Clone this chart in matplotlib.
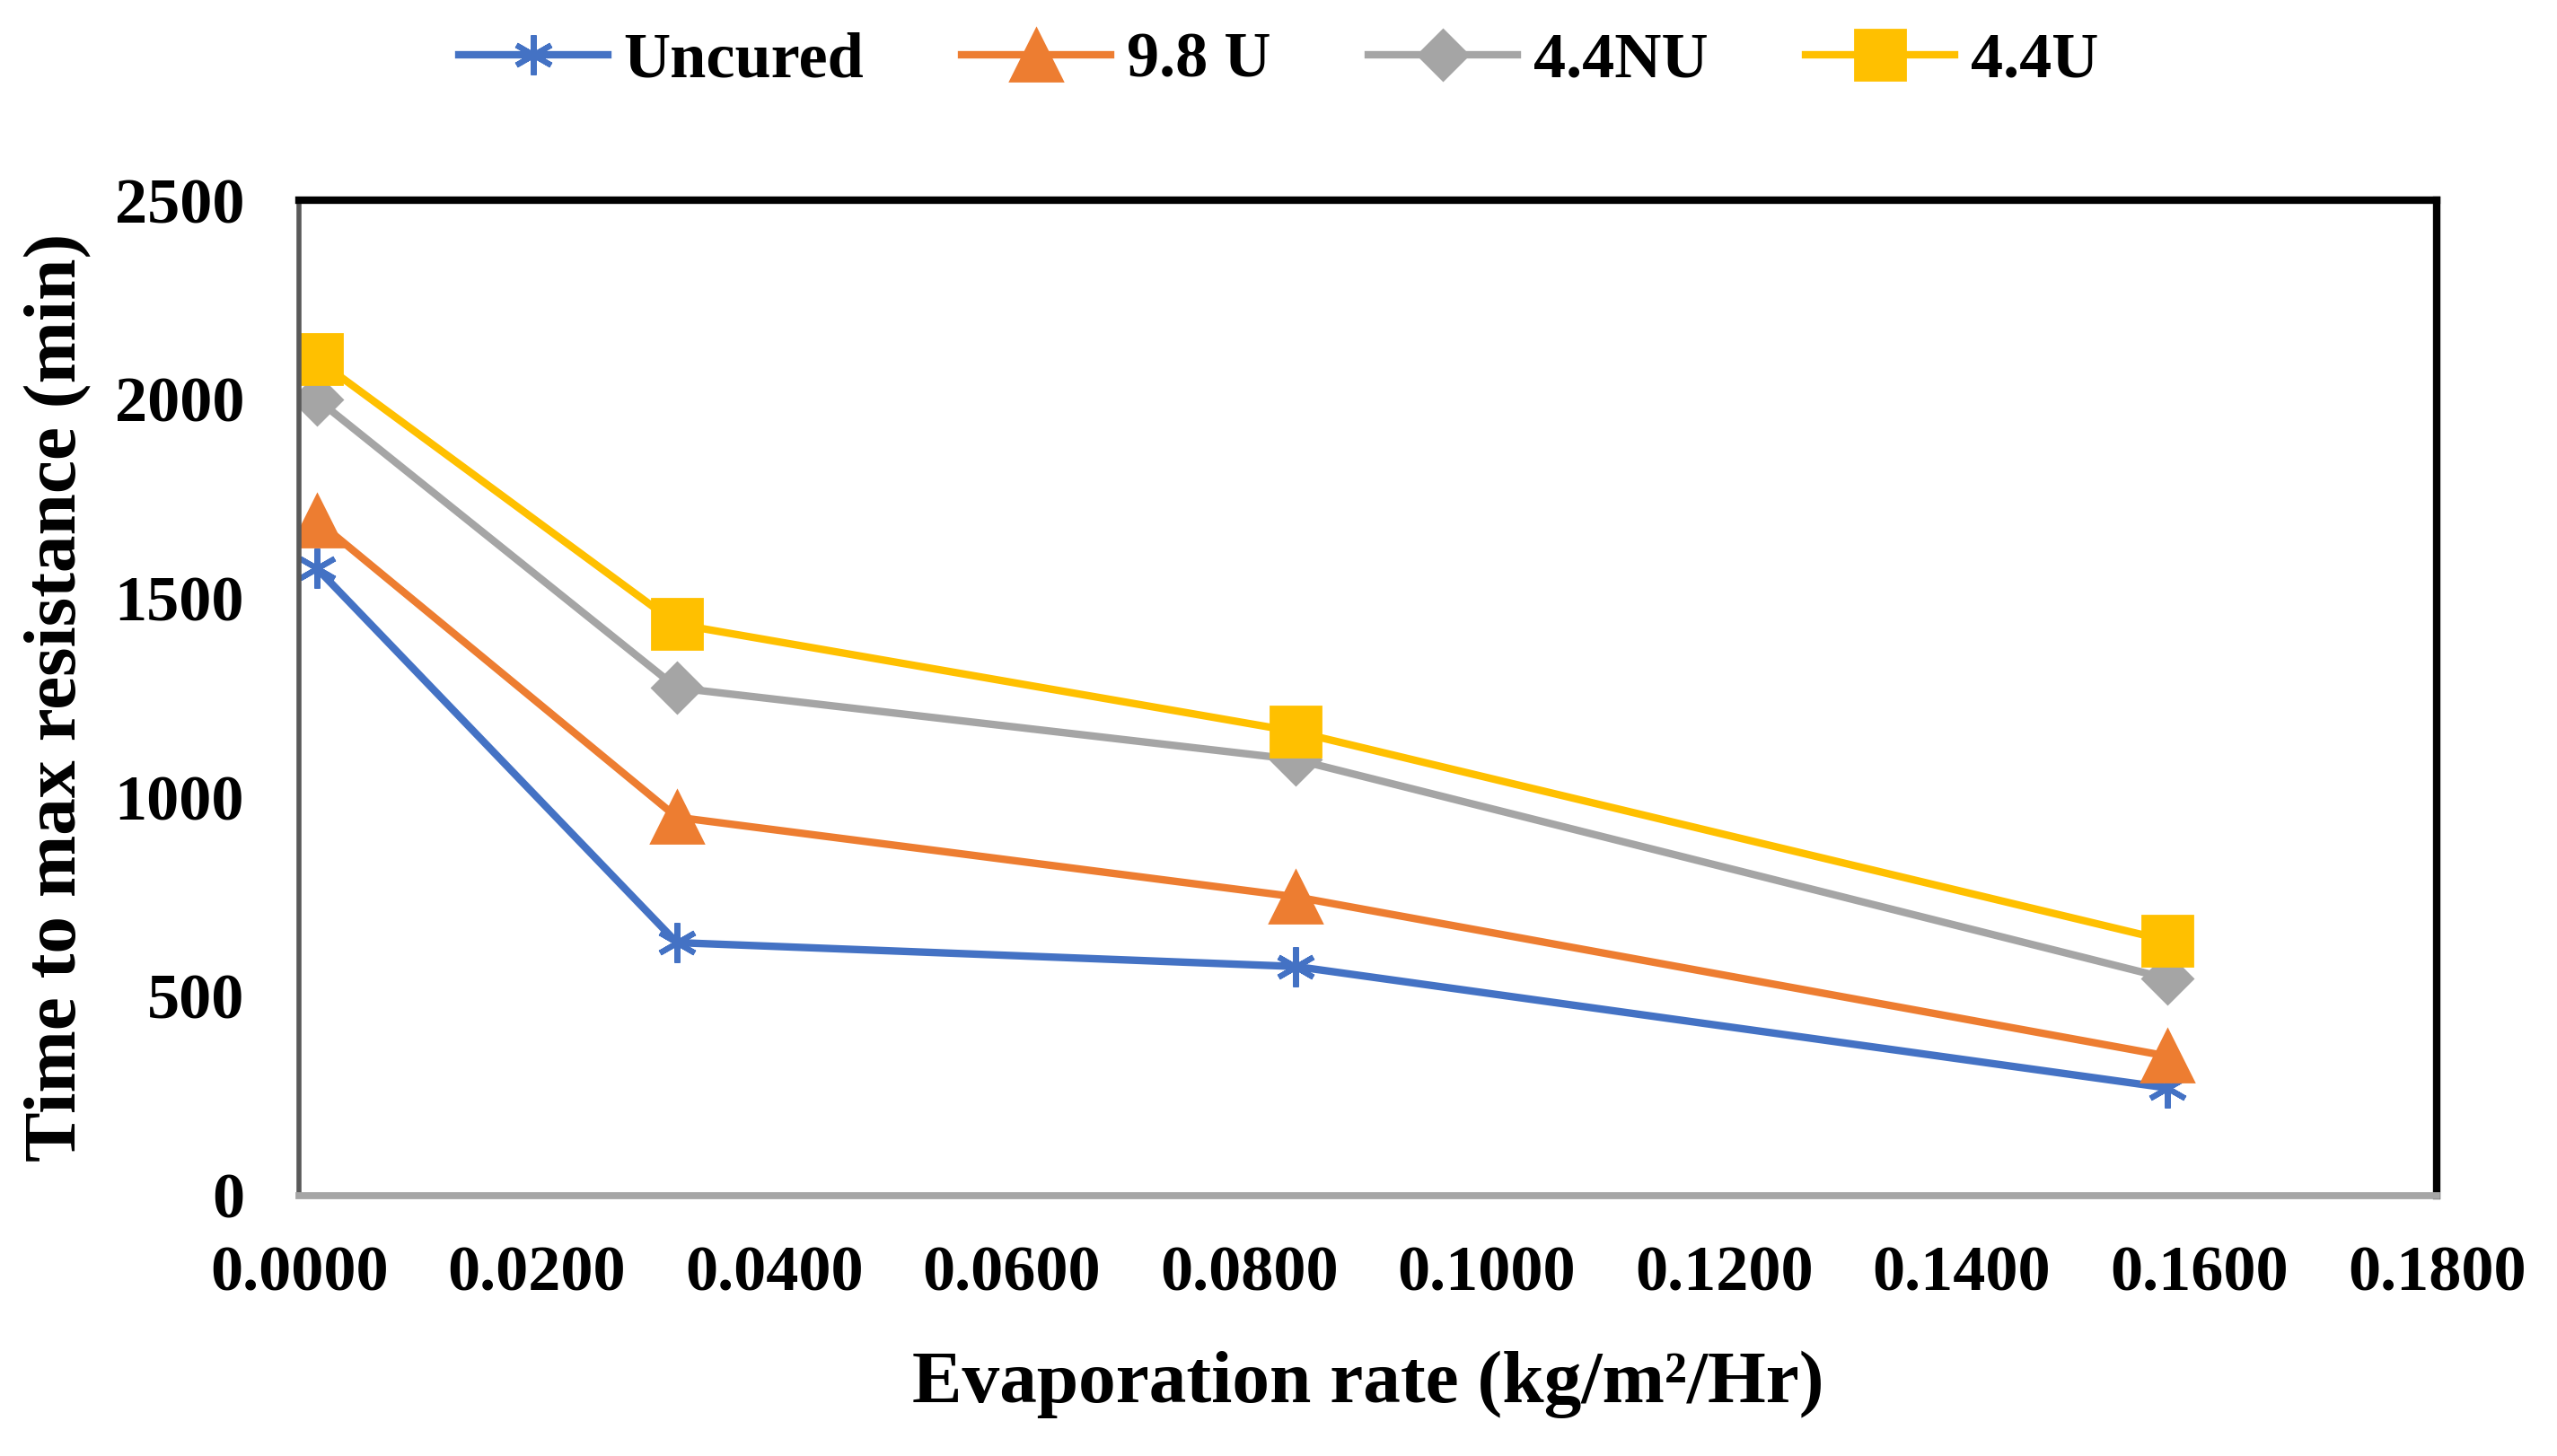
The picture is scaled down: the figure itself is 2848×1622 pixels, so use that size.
import matplotlib.pyplot as plt
import numpy as np

plt.rc('font', family='Liberation Serif', weight='bold')

# data
evap = [0.0015, 0.0318, 0.0839, 0.1573]
uncured = [1575, 635, 575, 270]
u98 = [1695, 950, 750, 350]
nu44 = [2000, 1275, 1095, 545]
u44 = [2100, 1435, 1165, 640]

names = ['Uncured', '9.8 U', '4.4NU', '4.4U']
xticks = np.arange(0, 0.1801, 0.02)
yticks = [0, 500, 1000, 1500, 2000, 2500]

fig = plt.figure(figsize=(14.24, 8.11), dpi=200)
ax = fig.add_axes([0.117, 0.179, 0.836, 0.6835])

lw = 3.0
ax.plot(evap, uncured, color='#4472C4', lw=lw, marker=(6, 2, 0), ms=16, mew=2.2, label=names[0])
ax.plot(evap, u98, color='#ED7D31', lw=lw, marker='^', ms=21, label=names[1])
ax.plot(evap, nu44, color='#A5A5A5', lw=lw, marker='D', ms=14.5, label=names[2])
ax.plot(evap, u44, color='#FFC000', lw=lw, marker='s', ms=20, label=names[3])

ax.set_xlim(0, 0.18)
ax.set_ylim(0, 2500)
ax.set_xticks(xticks)
ax.set_xticklabels(['%.4f' % v for v in xticks])
ax.set_yticks(yticks)
ax.tick_params(length=0, labelsize=26)
ax.tick_params(axis='x', pad=20)
ax.tick_params(axis='y', pad=22)

ax.spines['top'].set_color('black')
ax.spines['top'].set_linewidth(3)
ax.spines['right'].set_color('black')
ax.spines['right'].set_linewidth(3)
ax.spines['left'].set_color('#595959')
ax.spines['left'].set_linewidth(2)
ax.spines['bottom'].set_color('#A6A6A6')
ax.spines['bottom'].set_linewidth(2.8)

ax.set_xlabel('Evaporation rate (kg/m²/Hr)', fontsize=30, fontweight='bold', labelpad=19)
ax.set_ylabel('Time to max resistance (min)', fontsize=30, fontweight='bold', labelpad=9)

fig.legend(loc='center', bbox_to_anchor=(0.5, 0.958), ncol=4, frameon=False, fontsize=26,
           handlelength=2.3, handletextpad=0.25, columnspacing=1.5)

fig.savefig('out.png', dpi=200)
